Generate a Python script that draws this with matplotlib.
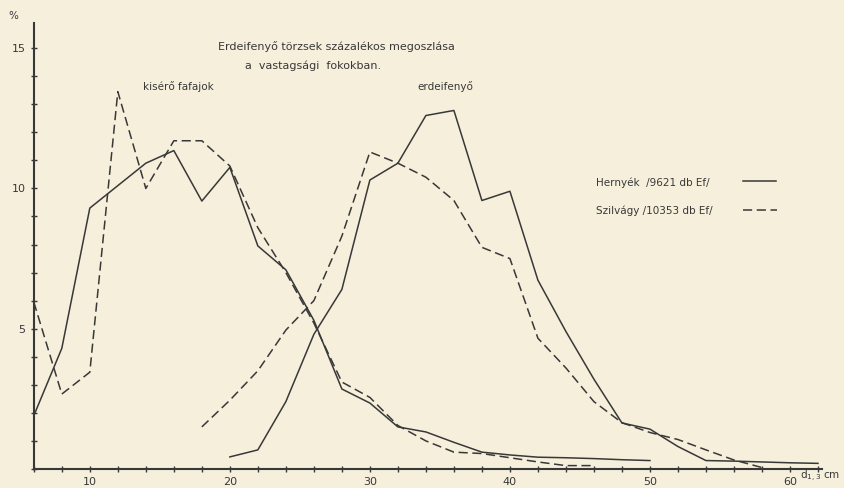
import numpy as np
import matplotlib.pyplot as plt
from matplotlib.ticker import MultipleLocator

# kísérő fafajok (mellékfafajok) megoszlása
kis_x_h = [6, 8, 10, 12, 14, 16, 18, 20, 22, 24, 26, 28, 30, 32, 34, 36, 38, 40, 42, 44, 46, 48, 50]
kis_y_h = [1.9, 4.3, 9.3, 10.1, 10.9, 11.35, 9.55, 10.75, 7.95, 7.1, 5.3, 2.85, 2.35, 1.5, 1.32, 0.95,
           0.6, 0.5, 0.42, 0.4, 0.37, 0.33, 0.3]
kis_x_s = [6, 8, 10, 12, 14, 16, 18, 20, 22, 24, 26, 28, 30, 32, 34, 36, 38, 40, 42, 44, 46]
kis_y_s = [5.95, 2.67, 3.45, 13.45, 10.0, 11.7, 11.7, 10.8, 8.6, 7.0, 5.2, 3.1, 2.55, 1.55, 1.0, 0.6,
           0.55, 0.4, 0.25, 0.12, 0.12]

# erdeifenyő megoszlása
ef_x_h = [20, 22, 24, 26, 28, 30, 32, 34, 36, 38, 40, 42, 44, 46, 48, 50, 52, 54, 56, 58, 60, 62]
ef_y_h = [0.43, 0.68, 2.4, 4.8, 6.4, 10.3, 10.9, 12.6, 12.78, 9.57, 9.9, 6.73, 4.9, 3.2, 1.64, 1.42,
          0.8, 0.3, 0.28, 0.25, 0.22, 0.2]
ef_x_s = [18, 20, 22, 24, 26, 28, 30, 32, 34, 36, 38, 40, 42, 44, 46, 48, 50, 52, 54, 56, 58]
ef_y_s = [1.5, 2.45, 3.5, 4.95, 6.0, 8.3, 11.3, 10.9, 10.4, 9.57, 7.9, 7.5, 4.66, 3.6, 2.4, 1.65,
          1.3, 1.05, 0.68, 0.32, 0.05]

papir = '#f5efdc'
tinta = '#383838'

fig = plt.figure(figsize=(8.45, 4.88), dpi=100, facecolor=papir)
ax = fig.add_axes([0.040, 0.039, 0.933, 0.914], facecolor=papir)

ax.plot(kis_x_h, kis_y_h, color=tinta, lw=1.1)
ax.plot(ef_x_h, ef_y_h, color=tinta, lw=1.1)
ax.plot(kis_x_s, kis_y_s, color=tinta, lw=1.1, ls=(0, (6, 3)))
ax.plot(ef_x_s, ef_y_s, color=tinta, lw=1.1, ls=(0, (6, 3)))

ax.set_xlim(6, 62.3)
ax.set_ylim(0, 15.9)
ax.xaxis.set_major_locator(MultipleLocator(10))
ax.xaxis.set_minor_locator(MultipleLocator(2))
ax.yaxis.set_major_locator(MultipleLocator(5))
ax.yaxis.set_minor_locator(MultipleLocator(1))
ax.set_xticks([10, 20, 30, 40, 50, 60])
ax.set_yticks([5, 10, 15])
ax.tick_params(which='both', direction='inout', color=tinta, labelcolor=tinta, labelsize=8, width=1)
ax.tick_params(which='major', length=5)
ax.tick_params(which='minor', length=4)
for s in ['top', 'right']:
    ax.spines[s].set_visible(False)
for s in ['left', 'bottom']:
    ax.spines[s].set_color(tinta)
    ax.spines[s].set_linewidth(1.5)

# feliratok
fig.text(218 / 845, 1 - 47 / 488, 'Erdeifenyő törzsek százalékos megoszlása', fontsize=8,
         color=tinta, va='center')
fig.text(245 / 845, 1 - 66 / 488, 'a  vastagsági  fokokban.', fontsize=8, color=tinta, va='center')
fig.text(143 / 845, 1 - 87 / 488, 'kisérő fafajok', fontsize=7.5, color=tinta, va='center')
fig.text(417 / 845, 1 - 87 / 488, 'erdeifenyő', fontsize=7.5, color=tinta, va='center')
fig.text(8 / 845, 1 - 16 / 488, '%', fontsize=7.5, color=tinta, va='center')
fig.text(800 / 845, 1 - 476 / 488, 'd$_{1,3}$ cm', fontsize=7.5, color=tinta, va='center')

# jelmagyarázat
fig.text(596 / 845, 1 - 183 / 488, 'Hernyék  /9621 db Ef/', fontsize=7.5, color=tinta, va='center')
fig.text(596 / 845, 1 - 211 / 488, 'Szilvágy /10353 db Ef/', fontsize=7.5, color=tinta, va='center')
fig.add_artist(plt.Line2D([743 / 845, 776 / 845], [1 - 181 / 488] * 2, color=tinta, lw=1.1))
fig.add_artist(plt.Line2D([743 / 845, 777 / 845], [1 - 210 / 488] * 2, color=tinta, lw=1.1,
                          ls=(0, (6, 3))))

fig.savefig('out.png', dpi=100, facecolor=papir)
